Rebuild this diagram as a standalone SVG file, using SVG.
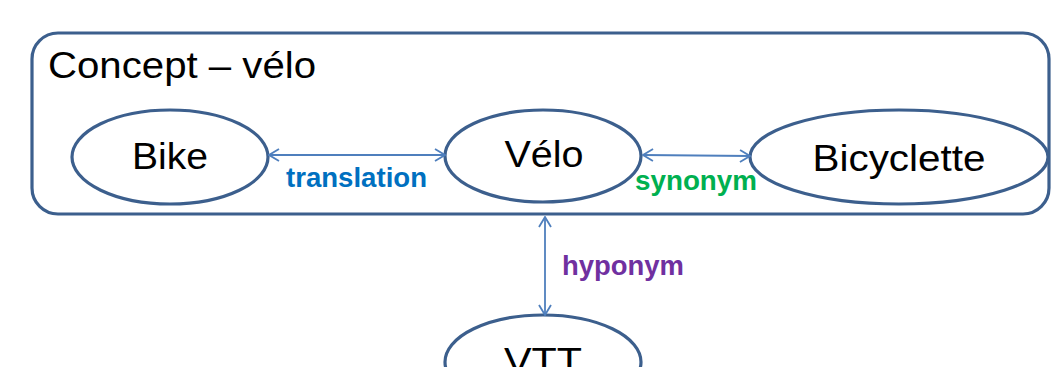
<svg xmlns="http://www.w3.org/2000/svg" width="1052" height="367" viewBox="0 0 1052 367">
<style>
.node{fill:#fff;stroke:#3c5f8d;stroke-width:3.2}
.nt{font-family:"Liberation Sans",Arial,sans-serif;font-size:36px;fill:#000;text-anchor:middle}
.lbl{font-family:"Liberation Sans",Arial,sans-serif;font-size:27px;font-weight:bold}
.conn{stroke:#4f7fbd;stroke-width:1.8;fill:none;marker-start:url(#ah);marker-end:url(#ah)}
</style>
<defs>
<marker id="ah" viewBox="0 0 12 14" refX="11" refY="7" markerWidth="12" markerHeight="14" markerUnits="userSpaceOnUse" orient="auto-start-reverse">
<path d="M1,1 L11,7 L1,13" fill="none" stroke="#4f7fbd" stroke-width="1.8"/>
</marker>
</defs>
<rect width="1052" height="367" fill="#fff"/>
<g id="concept">
<rect x="32" y="33" width="1017" height="181" rx="26" ry="26" fill="#fff" stroke="#3c5f8d" stroke-width="3.2"/>
<text x="48" y="78" font-family="Liberation Sans,Arial,sans-serif" font-size="37" textLength="268" lengthAdjust="spacingAndGlyphs">Concept – vélo</text>
</g>
<g id="bike">
<ellipse class="node" cx="170" cy="157" rx="98" ry="47"/>
<text class="nt" x="170" y="169" textLength="76" lengthAdjust="spacingAndGlyphs">Bike</text>
</g>
<g id="velo">
<ellipse class="node" cx="543" cy="156" rx="98" ry="46"/>
<text class="nt" x="544" y="167" textLength="79" lengthAdjust="spacingAndGlyphs">Vélo</text>
</g>
<g id="bicyclette">
<ellipse class="node" cx="899" cy="157" rx="149" ry="47"/>
<text class="nt" x="899" y="171" textLength="173" lengthAdjust="spacingAndGlyphs">Bicyclette</text>
</g>
<g id="vtt">
<ellipse class="node" cx="543" cy="362" rx="98" ry="47"/>
<text class="nt" x="543" y="374" textLength="78" lengthAdjust="spacingAndGlyphs">VTT</text>
</g>
<g id="connectors">
<line class="conn" x1="269" y1="155" x2="445" y2="155"/>
<line class="conn" x1="643" y1="155" x2="750" y2="156"/>
<line class="conn" x1="545" y1="217" x2="545" y2="315"/>
<text class="lbl" x="286" y="187" fill="#0070c0" textLength="141" lengthAdjust="spacingAndGlyphs">translation</text>
<text class="lbl" x="635" y="190" fill="#00b050" textLength="122" lengthAdjust="spacingAndGlyphs">synonym</text>
<text class="lbl" x="562" y="275" fill="#7030a0" textLength="122" lengthAdjust="spacingAndGlyphs">hyponym</text>
</g>
</svg>
